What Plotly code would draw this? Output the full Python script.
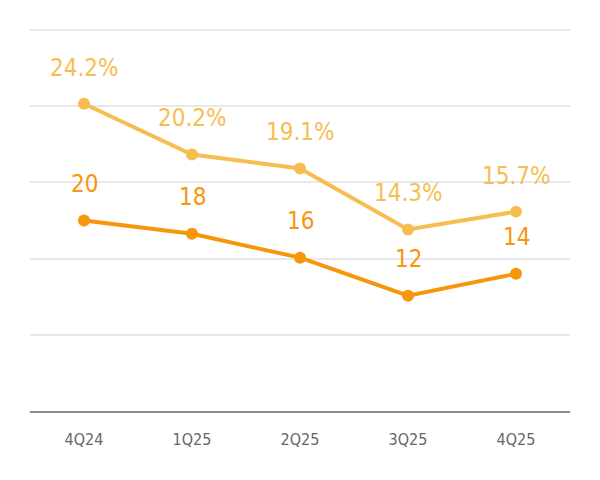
import plotly.graph_objects as go

quarters = ["4Q24", "1Q25", "2Q25", "3Q25", "4Q25"]
ratio_pct = [24.2, 20.2, 19.1, 14.3, 15.7]
ratio_labels = ["24.2%", "20.2%", "19.1%", "14.3%", "15.7%"]
count_vals = [20.0, 18.6, 16.1, 12.1, 14.4]
count_labels = ["20", "18", "16", "12", "14"]

LIGHT = "#F6BE50"
DARK = "#F6960C"
FONT = "DejaVu Sans Condensed, Liberation Sans Narrow, sans-serif"

fig = go.Figure()
fig.add_trace(go.Scatter(x=quarters, y=count_vals, mode="lines+markers",
                         line=dict(color=DARK, width=4), marker=dict(size=12, color=DARK),
                         yaxis="y", hoverinfo="skip"))
fig.add_trace(go.Scatter(x=quarters, y=ratio_pct, mode="lines+markers",
                         line=dict(color=LIGHT, width=4), marker=dict(size=12, color=LIGHT),
                         yaxis="y2", hoverinfo="skip"))

ann = []
for q, v, t in zip(quarters, ratio_pct, ratio_labels):
    ann.append(dict(x=q, y=v, xref="x", yref="y2", text=t, showarrow=False,
                    yshift=36, font=dict(family=FONT, size=24, color=LIGHT)))
for q, v, t in zip(quarters, count_vals, count_labels):
    ann.append(dict(x=q, y=v, xref="x", yref="y", text=t, showarrow=False,
                    yshift=37, font=dict(family=FONT, size=24, color=DARK)))

fig.update_layout(
    width=584, height=464,
    margin=dict(l=22, r=22, t=12, b=61),
    paper_bgcolor="white", plot_bgcolor="white",
    showlegend=False,
    annotations=ann,
    font=dict(family=FONT),
    xaxis=dict(type="category", range=[-0.5, 4.5], showgrid=False,
               showline=True, linecolor="#8a8a8a", linewidth=2,
               tickfont=dict(family=FONT, size=16, color="#666666"),
               ticks="", ticklabelstandoff=13),
    yaxis=dict(range=[0, 41.05], tickvals=[8, 16, 24, 32, 40], showgrid=True,
               gridcolor="#e8e8e8", gridwidth=2,
               showticklabels=False, zeroline=False),
    yaxis2=dict(range=[0, 30.79], overlaying="y", showgrid=False, showticklabels=False,
                zeroline=False),
)

fig.write_html("out.html")
